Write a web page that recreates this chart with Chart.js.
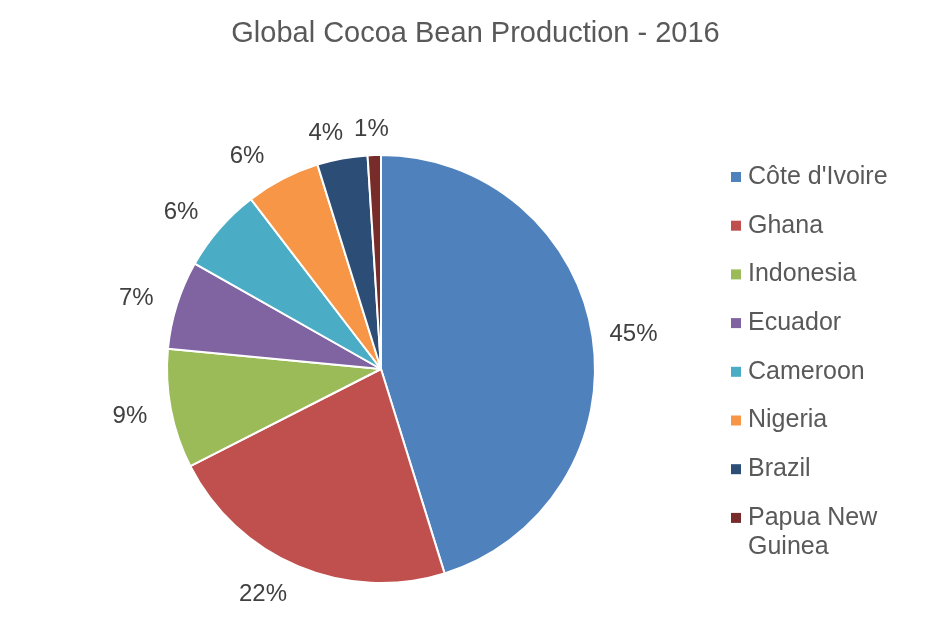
<!DOCTYPE html>
<html>
<head>
<meta charset="utf-8">
<script src="https://cdn.jsdelivr.net/npm/chart.js@4.4.0/dist/chart.umd.min.js"></script>
<style>
  html, body { margin: 0; padding: 0; background: #fff; }
  #wrap { width: 951px; height: 620px; }
</style>
</head>
<body>
<div id="wrap"><canvas id="myChart" width="951" height="620"></canvas></div>
<script>
const title = "Global Cocoa Bean Production - 2016";
const countries = ["Côte d'Ivoire", "Ghana", "Indonesia", "Ecuador", "Cameroon", "Nigeria", "Brazil", "Papua New Guinea"];
const legendLines = [["Côte d'Ivoire"], ["Ghana"], ["Indonesia"], ["Ecuador"], ["Cameroon"], ["Nigeria"], ["Brazil"], ["Papua New", "Guinea"]];
// share of world production, percent
const shares = [45.2, 22.3, 9.0, 6.7, 6.4, 5.6, 3.8, 1.0];
const colors = ["#4F81BD", "#C0504D", "#9BBB59", "#8064A2", "#4BACC6", "#F79646", "#2C4D75", "#772C2A"];

const FONT = "'Liberation Sans', Arial, sans-serif";

const extras = {
  id: "extras",
  afterDraw(chart) {
    const ctx = chart.ctx;
    const meta = chart.getDatasetMeta(0);
    const total = shares.reduce((a, b) => a + b, 0);
    ctx.save();

    // title
    ctx.fillStyle = "#595959";
    ctx.font = "29px " + FONT;
    ctx.textAlign = "center";
    ctx.textBaseline = "middle";
    ctx.fillText(title, chart.width / 2, 34);

    // percent labels, placed roughly like Excel's "outside end"
    ctx.font = "24px " + FONT;
    ctx.fillStyle = "#404040";
    meta.data.forEach((arc, i) => {
      const p = arc.getProps(["x", "y", "startAngle", "endAngle", "outerRadius"], true);
      const mid = (p.startAngle + p.endAngle) / 2;
      const txt = Math.round(shares[i] / total * 100) + "%";
      const dx = Math.cos(mid), dy = Math.sin(mid);
      const r = p.outerRadius + 10;
      const ox = 31 * Math.sign(dx) * Math.min(1, Math.abs(dx) * 2.6);
      const oy = 18 * dy + 2;
      ctx.fillText(txt, p.x + dx * r + ox, p.y + dy * r + oy);
    });

    // legend
    ctx.textAlign = "left";
    ctx.font = "25px " + FONT;
    let y = 177;
    legendLines.forEach((lines, i) => {
      ctx.fillStyle = colors[i];
      ctx.fillRect(731, y - 5, 10, 10);
      ctx.fillStyle = "#595959";
      lines.forEach((ln, k) => ctx.fillText(ln, 748, y + k * 29));
      y += 48.7;
    });
    ctx.restore();
  }
};

const chartCanvas = document.getElementById("myChart").getContext("2d");
new Chart(chartCanvas, {
  type: "pie",
  data: {
    labels: countries,
    datasets: [{
      data: shares,
      backgroundColor: colors,
      borderColor: "#ffffff",
      borderWidth: 2
    }]
  },
  options: {
    responsive: false,
    animation: false,
    layout: { padding: { left: 166, right: 355, top: 154, bottom: 36 } },
    plugins: {
      legend: { display: false },
      title: { display: false },
      tooltip: { enabled: false }
    }
  },
  plugins: [extras]
});
</script>
</body>
</html>
